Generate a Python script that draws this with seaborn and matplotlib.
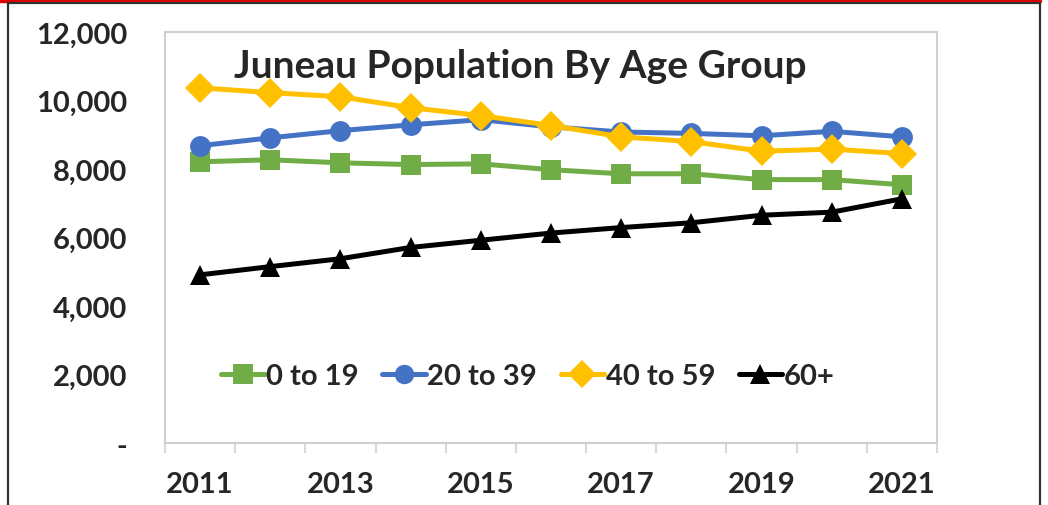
import numpy as np
import pandas as pd
import matplotlib
matplotlib.use("Agg")
import matplotlib.pyplot as plt
from matplotlib.lines import Line2D
from matplotlib.ticker import FixedLocator, FuncFormatter
import seaborn as sns

years = list(range(2011, 2022))
age_0_19 = [8210, 8270, 8180, 8130, 8150, 7980, 7860, 7860, 7690, 7690, 7540]
age_20_39 = [8680, 8910, 9120, 9290, 9440, 9230, 9080, 9040, 8970, 9100, 8940]
age_40_59 = [10370, 10230, 10110, 9790, 9560, 9270, 8940, 8800, 8520, 8580, 8450]
age_60_plus = [4910, 5150, 5380, 5710, 5920, 6130, 6290, 6430, 6650, 6740, 7130]
groups = ['0 to 19', '20 to 39', '40 to 59', '60+']
colors = ['#70AD47', '#4472C4', '#FFC000', '#000000']
markers = ['s', 'o', 'D', '^']
y_ticks = [0, 2000, 4000, 6000, 8000, 10000, 12000]

df = pd.DataFrame({'Year': years * 4,
                   'Population': age_0_19 + age_20_39 + age_40_59 + age_60_plus,
                   'Group': sum([[g] * len(years) for g in groups], [])})

sns.set_style('white')
plt.rcParams['font.family'] = ['Lato', 'DejaVu Sans']
plt.rcParams['font.weight'] = 'bold'

W, H = 1048, 506
fig = plt.figure(figsize=(W / 100, H / 100), dpi=100)
ax = fig.add_axes([165 / W, 1 - 444 / H, (937 - 165) / W, (444 - 33) / H])

sns.lineplot(data=df, x='Year', y='Population', hue='Group', style='Group',
             palette=dict(zip(groups, colors)),
             markers=dict(zip(groups, markers)), dashes=False,
             linewidth=3.6, markersize=15, markeredgewidth=0, ax=ax)

ax.set_xlim(2010.5, 2021.5)
ax.set_ylim(0, 12000)
ax.set_xlabel('')
ax.set_ylabel('')
ax.set_xticks(years[::2])
ax.xaxis.set_minor_locator(FixedLocator(np.arange(2010.5, 2022, 1)))
ax.tick_params(axis='x', which='major', length=0, pad=20, labelsize=21)
ax.tick_params(axis='x', which='minor', length=7, width=1.5, color='#d9d9d9',
               bottom=True)
ax.set_yticks(y_ticks)
ax.yaxis.set_major_formatter(FuncFormatter(lambda v, p: '-' if v == 0 else f'{int(v):,}'))
ax.tick_params(axis='y', length=0, pad=27, labelsize=21)
for lab in ax.get_xticklabels() + ax.get_yticklabels():
    lab.set_fontweight('bold')
for s in ax.spines.values():
    s.set_color('#d0d0d0')
    s.set_linewidth(1.5)

ax.text(0.46, 0.96, 'Juneau Population By Age Group', transform=ax.transAxes,
        ha='center', va='top', fontsize=28, fontweight='bold')

leg = ax.legend(loc='center', bbox_to_anchor=(0.47, 0.163), ncol=4,
                frameon=False, fontsize=21, handlelength=1.5,
                columnspacing=0.8, handletextpad=0.05)
for t in leg.get_texts():
    t.set_fontweight('bold')
for h in leg.legend_handles:
    h.set_markersize(14)
    h.set_linewidth(3.6)

# outer frame
fig.add_artist(Line2D([0, 1040 / W], [1 - 1.5 / H] * 2, color='#e00000', lw=2.5))
fig.add_artist(Line2D([8 / W, 1040 / W, 1040 / W], [1 - 4 / H, 1 - 4 / H, 0],
                      color='#333333', lw=1.6))
fig.add_artist(Line2D([8 / W, 8 / W], [1 - 4 / H, 0], color='#333333', lw=1.6))

fig.savefig('out.png', dpi=100)
